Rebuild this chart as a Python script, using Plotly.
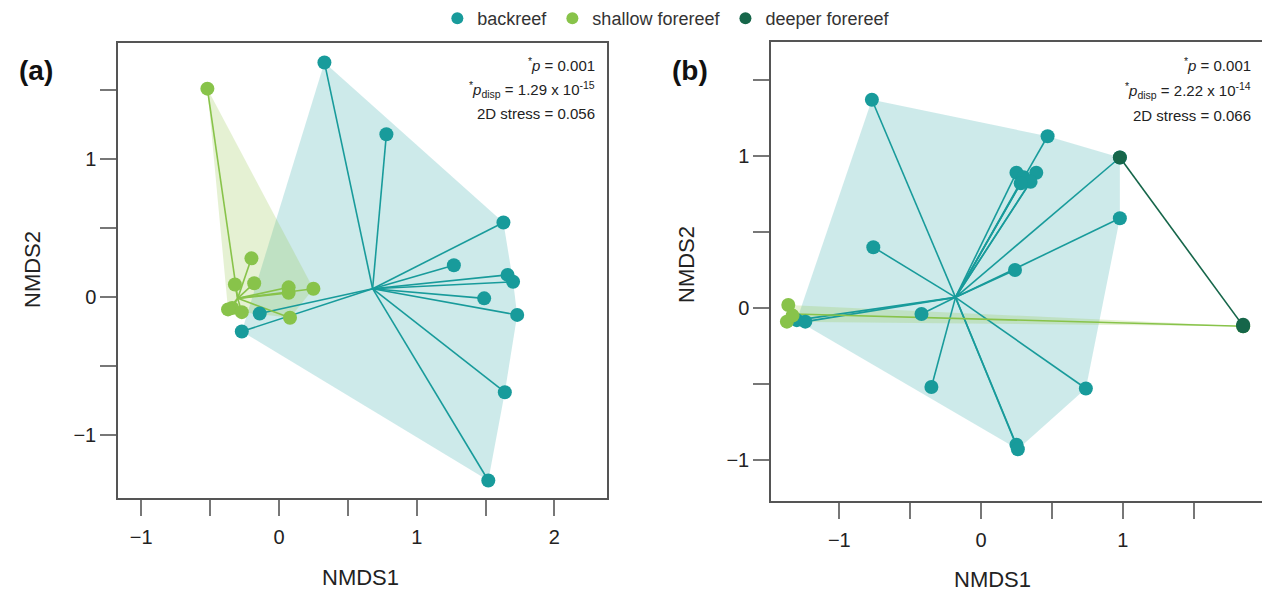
import plotly.graph_objects as go

# ---------------- data ----------------
# Panel (a)
a_back_x = [0.33, 0.78, 1.63, 1.27, 1.66, 1.70, 1.49, 1.73, 1.64, 1.52, -0.27, -0.14]
a_back_y = [1.70, 1.18, 0.54, 0.23, 0.16, 0.11, -0.01, -0.13, -0.69, -1.33, -0.25, -0.12]
a_back_cent = (0.68, 0.06)

a_shal_x = [-0.52, -0.20, -0.32, -0.18, 0.07, 0.07, 0.25, -0.34, -0.27, 0.08, -0.37]
a_shal_y = [1.51, 0.28, 0.09, 0.10, 0.07, 0.03, 0.06, -0.08, -0.11, -0.15, -0.09]
a_shal_cent = (-0.30, -0.01)

# Panel (b)
b_back_x = [-0.77, 0.47, 0.25, 0.30, 0.39, 0.35, 0.28, 0.98, 0.98, -0.76, 0.24, -0.42,
            -0.35, 0.74, 0.25, 0.26, -1.30, -1.24]
b_back_y = [1.37, 1.13, 0.89, 0.86, 0.89, 0.83, 0.82, 0.99, 0.59, 0.40, 0.25, -0.04,
            -0.52, -0.53, -0.90, -0.93, -0.08, -0.09]
b_back_cent = (-0.18, 0.07)

b_shal_x = [-1.36, -1.37, -1.33, 1.85]
b_shal_y = [0.02, -0.09, -0.05, -0.12]
b_shal_cent = (-1.32, -0.04)

b_deep_x = [0.98, 1.85, 1.85]
b_deep_y = [0.99, -0.12, -0.11]
b_deep_cent = (1.82, -0.08)

groups = ["backreef", "shallow forereef", "deeper forereef"]
stats_a = ["<sup>*</sup><i>p</i> = 0.001",
           "<sup>*</sup><i>p</i><sub>disp</sub> = 1.29 x 10<sup>-15</sup>",
           "2D stress = 0.056"]
stats_b = ["<sup>*</sup><i>p</i> = 0.001",
           "<sup>*</sup><i>p</i><sub>disp</sub> = 2.22 x 10<sup>-14</sup>",
           "2D stress = 0.066"]

# ---------------- styles ----------------
COL = {"backreef": "#189b9b", "shallow forereef": "#88c34a", "deeper forereef": "#16664a"}
FILL = {"backreef": "rgba(26,158,158,0.22)", "shallow forereef": "rgba(150,200,80,0.25)",
        "deeper forereef": "rgba(22,102,74,0.25)"}
FONT = "Liberation Sans, Arial, Helvetica, sans-serif"
W, H = 1262, 593


def hull(xs, ys):
    pts = sorted(set(zip(xs, ys)))
    if len(pts) <= 2:
        return pts

    def cross(o, a, b):
        return (a[0] - o[0]) * (b[1] - o[1]) - (a[1] - o[1]) * (b[0] - o[0])
    lower, upper = [], []
    for p in pts:
        while len(lower) >= 2 and cross(lower[-2], lower[-1], p) <= 0:
            lower.pop()
        lower.append(p)
    for p in reversed(pts):
        while len(upper) >= 2 and cross(upper[-2], upper[-1], p) <= 0:
            upper.pop()
        upper.append(p)
    return lower[:-1] + upper[:-1]


fig = go.Figure()


def add_panel(sets, xa, ya, legend_groups):
    for g, xs, ys, c in sets:
        h = hull(xs, ys)
        hx = [p[0] for p in h] + [h[0][0]]
        hy = [p[1] for p in h] + [h[0][1]]
        fig.add_trace(go.Scatter(x=hx, y=hy, mode="lines", fill="toself",
                                 fillcolor=FILL[g], line=dict(width=0 if len(h) > 2 else 1.5,
                                                              color=COL[g]),
                                 xaxis=xa, yaxis=ya, showlegend=False, hoverinfo="skip"))
    for g, xs, ys, c in sets:
        sx, sy = [], []
        for x, y in zip(xs, ys):
            sx += [c[0], x, None]
            sy += [c[1], y, None]
        fig.add_trace(go.Scatter(x=sx, y=sy, mode="lines", line=dict(color=COL[g], width=1.6),
                                 xaxis=xa, yaxis=ya, showlegend=False, hoverinfo="skip"))
    for g, xs, ys, c in sets:
        fig.add_trace(go.Scatter(x=xs, y=ys, mode="markers", name=g,
                                 marker=dict(color=COL[g], size=14),
                                 xaxis=xa, yaxis=ya, showlegend=g in legend_groups))


add_panel([("backreef", a_back_x, a_back_y, a_back_cent),
           ("shallow forereef", a_shal_x, a_shal_y, a_shal_cent)],
          "x", "y", ["backreef", "shallow forereef"])
add_panel([("backreef", b_back_x, b_back_y, b_back_cent),
           ("shallow forereef", b_shal_x, b_shal_y, b_shal_cent),
           ("deeper forereef", b_deep_x, b_deep_y, b_deep_cent)],
          "x2", "y2", ["deeper forereef"])


def lab(v):
    if abs(v - round(v)) > 1e-9:
        return ""
    v = int(round(v))
    return ("\u2212" + str(-v)) if v < 0 else str(v)


ax_common = dict(showgrid=False, zeroline=False, showline=True, linecolor="#555555",
                 linewidth=1.5, ticks="outside", ticklen=16, tickwidth=1.5,
                 tickcolor="#777777", tickfont=dict(family=FONT, size=20, color="#222222"))

ax_ticks_a = [-1, -0.5, 0, 0.5, 1, 1.5, 2]
ay_ticks_a = [-1, -0.5, 0, 0.5, 1, 1.5]
bx_ticks = [-1.5, -1, -0.5, 0, 0.5, 1, 1.5]
by_ticks = [-1, -0.5, 0, 0.5, 1, 1.5]


def px_x(p):
    return p / W


def px_y(p):
    return (H - p) / H


fig.update_layout(
    xaxis=dict(domain=[px_x(118), px_x(607)], range=[-1.169, 2.382], anchor="y", mirror=True,
               tickvals=ax_ticks_a, ticktext=[lab(v) for v in ax_ticks_a],
               ticklabelstandoff=4, **ax_common),
    yaxis=dict(domain=[px_y(498), px_y(43)], range=[-1.457, 1.841], anchor="x", mirror=True,
               tickvals=ay_ticks_a, ticktext=[lab(v) for v in ay_ticks_a], **ax_common),
    xaxis2=dict(domain=[px_x(771), 1.0], range=[-1.482, 1.983], anchor="y2", mirror=True,
                tickvals=bx_ticks, ticktext=[lab(v) for v in bx_ticks],
                ticklabelstandoff=4, **ax_common),
    yaxis2=dict(domain=[px_y(501), px_y(42)], range=[-1.270, 1.75], anchor="x2", mirror=False,
                tickvals=by_ticks, ticktext=[lab(v) for v in by_ticks], **ax_common),
    width=W, height=H, margin=dict(l=0, r=0, t=0, b=0, autoexpand=False),
    plot_bgcolor="white", paper_bgcolor="white",
    font=dict(family=FONT, color="#222222"),
    legend=dict(orientation="h", x=0.528, xanchor="center", y=1.0, yanchor="top",
                font=dict(family=FONT, size=18, color="#333333"),
                bgcolor="rgba(0,0,0,0)", itemsizing="constant", itemwidth=30),
)

ann = []
for i, t in enumerate(stats_a):
    ann.append(dict(x=px_x(597), y=px_y(65 + 24 * i), xref="paper", yref="paper",
                    xanchor="right", yanchor="middle", text=t, showarrow=False,
                    font=dict(family=FONT, size=15, color="#222222")))
for i, t in enumerate(stats_b):
    ann.append(dict(x=px_x(1253), y=px_y(65 + 25 * i), xref="paper", yref="paper",
                    xanchor="right", yanchor="middle", text=t, showarrow=False,
                    font=dict(family=FONT, size=15, color="#222222")))
for t, x in [("(a)", 36), ("(b)", 690)]:
    ann.append(dict(x=px_x(x), y=px_y(70), xref="paper", yref="paper", xanchor="center",
                    yanchor="middle", text="<b>" + t + "</b>", showarrow=False,
                    font=dict(family=FONT, size=28, color="#111111")))
for x, y in [(32, 270), (686, 265)]:
    ann.append(dict(x=px_x(x), y=px_y(y), xref="paper", yref="paper", xanchor="center",
                    yanchor="middle", text="NMDS2", textangle=-90, showarrow=False,
                    font=dict(family=FONT, size=22, color="#222222")))
for x, y in [(360, 577), (993, 579)]:
    ann.append(dict(x=px_x(x), y=px_y(y), xref="paper", yref="paper", xanchor="center",
                    yanchor="middle", text="NMDS1", showarrow=False,
                    font=dict(family=FONT, size=22, color="#222222")))
fig.update_layout(annotations=ann)

fig.write_html("out.html")
